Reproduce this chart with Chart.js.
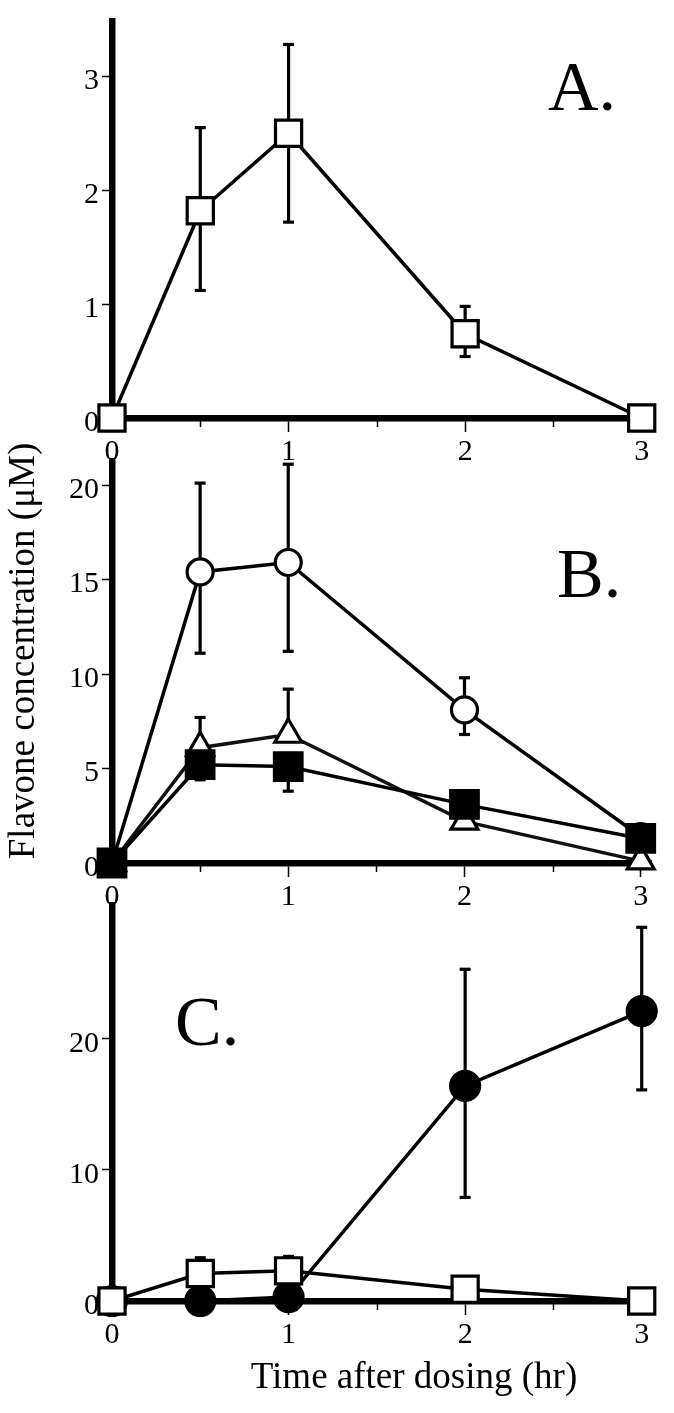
<!DOCTYPE html>
<html><head><meta charset="utf-8">
<script src="https://cdn.jsdelivr.net/npm/chart.js@4.4.1/dist/chart.umd.min.js"></script>
<style>
html,body{margin:0;padding:0;background:#fff;}
#wrap{position:relative;width:674px;height:1413px;overflow:hidden;background:#fff;}
canvas{position:absolute;left:0;}
</style></head><body>
<div id="wrap">
<canvas id="cA" width="674" height="470" style="top:0px"></canvas>
<canvas id="cB" width="674" height="520" style="top:400px"></canvas>
<canvas id="cC" width="674" height="533" style="top:880px"></canvas>
</div>
<script>
// ---------- data ----------
const timePoints = [0, 0.5, 1, 2, 3];
const xTickValues = [0, 1, 2, 3];
const xMinorTickValues = [0.5, 1.5, 2.5];

// Panel A
const aTicks = [0, 1, 2, 3];
const aSquareOpen   = [0, 1.82, 2.50, 0.74, 0];
const aSquareOpenHi = [null, 2.55, 3.28, 0.98, null];
const aSquareOpenLo = [null, 1.12, 1.72, 0.54, null];

// Panel B
const bTicks = [0, 5, 10, 15, 20];
const bCircleOpen     = [0, 15.4, 15.9, 8.1, 1.4];
const bCircleOpenHi   = [null, 20.1, 21.1, 9.8, null];
const bCircleOpenLo   = [null, 11.1, 11.2, 6.8, null];
const bTriangleOpen   = [0, 6.1, 6.8, 2.2, 0.1];
const bTriangleOpenHi = [null, 7.7, 9.2, null, null];
const bTriangleOpenLo = [null, null, null, null, null];
const bSquareFilled   = [0, 5.2, 5.1, 3.1, 1.3];
const bSquareFilledHi = [null, null, null, null, null];
const bSquareFilledLo = [null, 4.4, 3.8, null, null];

// Panel C
const cTicks = [0, 10, 20];
const cCircleFilled   = [0, 0, 0.3, 16.4, 22.1];
const cCircleFilledHi = [null, null, null, 25.3, 28.5];
const cCircleFilledLo = [null, null, null, 7.9, 16.1];
const cSquareOpen     = [0, 2.1, 2.3, 0.9, 0];
const cSquareOpenHi   = [null, 3.3, 3.4, null, null];
const cSquareOpenLo   = [null, null, null, null, null];

const yTitle = 'Flavone concentration (\u03BCM)';
const xTitle = 'Time after dosing (hr)';

// ---------- helpers ----------
const SERIF = "'Liberation Serif', 'Times New Roman', serif";
const pts = vals => timePoints.map((t, i) => ({x: t, y: vals[i]}));

const errorBarPlugin = {
  id: 'errorBars',
  beforeDatasetsDraw(chart) {
    const {ctx, scales: {x, y}} = chart;
    ctx.save();
    ctx.strokeStyle = '#000';
    ctx.lineWidth = 3.2;
    chart.data.datasets.forEach(ds => {
      if (!ds.errHi) return;
      ds.data.forEach((p, i) => {
        const px = x.getPixelForValue(p.x);
        const py = y.getPixelForValue(p.y);
        [ds.errHi[i], ds.errLo[i]].forEach(e => {
          if (e == null) return;
          const pe = y.getPixelForValue(e);
          ctx.beginPath(); ctx.moveTo(px, py); ctx.lineTo(px, pe); ctx.stroke();
          ctx.beginPath(); ctx.moveTo(px - 5.5, pe); ctx.lineTo(px + 5.5, pe); ctx.stroke();
        });
      });
    });
    ctx.restore();
  }
};

const extrasPlugin = {
  id: 'extras',
  beforeDatasetsDraw(chart) {
    const {ctx, scales: {x}, chartArea} = chart;
    ctx.save();
    ctx.strokeStyle = '#000';
    ctx.lineWidth = 1.5;
    xMinorTickValues.forEach(v => {
      const px = Math.round(x.getPixelForValue(v)) + 0.5;
      ctx.beginPath();
      ctx.moveTo(px, chartArea.bottom + 3);
      ctx.lineTo(px, chartArea.bottom + 9);
      ctx.stroke();
    });
    ctx.restore();
  },
  afterDraw(chart, args, opts) {
    const {ctx} = chart;
    ctx.save();
    ctx.fillStyle = '#000';
    if (opts.letter) {
      ctx.font = '70px ' + SERIF;
      ctx.textAlign = 'left';
      ctx.textBaseline = 'alphabetic';
      ctx.fillText(opts.letter.text, opts.letter.x, opts.letter.y);
    }
    (opts.titles || []).forEach(t => {
      ctx.save();
      ctx.font = '37px ' + SERIF;
      ctx.textAlign = 'center';
      ctx.textBaseline = 'alphabetic';
      ctx.translate(t.x, t.y);
      if (t.rotate) ctx.rotate(-Math.PI / 2);
      ctx.fillText(t.text, 0, 0);
      ctx.restore();
    });
    ctx.restore();
  }
};

function makeScales(yMax, yTickVals, xHeight) {
  const tickFont = {family: SERIF, size: 30};
  return {
    x: {
      type: 'linear', min: 0, max: 3.06,
      afterBuildTicks: s => { s.ticks = xTickValues.map(v => ({value: v})); },
      afterFit: s => { s.height = xHeight; },
      grid: {drawOnChartArea: false, drawTicks: true, tickLength: 14, tickWidth: 1.5, tickColor: '#000'},
      border: {display: true, width: 6.5, color: '#000'},
      ticks: {color: '#000', font: tickFont, padding: 2, maxRotation: 0, autoSkip: false,
               callback: v => String(v)}
    },
    y: {
      type: 'linear', min: 0, max: yMax,
      afterBuildTicks: s => { s.ticks = yTickVals.map(v => ({value: v})); },
      afterFit: s => { s.width = 112; },
      grid: {drawOnChartArea: false, drawTicks: true, tickLength: 10, tickWidth: 1.5, tickColor: '#000'},
      border: {display: true, width: 6.5, color: '#000'},
      ticks: {color: '#000', font: tickFont, padding: 3, labelOffset: 5, autoSkip: false,
              callback: v => String(v)}
    }
  };
}

function ds(vals, hi, lo, style, radius, fillCol, order, lineCol) {
  return {
    data: pts(vals), errHi: hi, errLo: lo,
    borderColor: lineCol || '#000', borderWidth: 3.5, tension: 0, fill: false,
    pointStyle: style, pointRadius: radius, pointHoverRadius: radius,
    pointBackgroundColor: fillCol, pointBorderColor: '#000', pointBorderWidth: 3.2,
    clip: false, order: order
  };
}

function baseOptions(yMax, yTickVals, xHeight, padTop, extras) {
  return {
    responsive: false, animation: false, events: [],
    layout: {padding: {top: padTop, right: 11, bottom: 0, left: 0}},
    plugins: {legend: {display: false}, tooltip: {enabled: false}, extras: extras},
    scales: makeScales(yMax, yTickVals, xHeight)
  };
}

// ---------- Panel A ----------
new Chart(document.getElementById('cA'), {
  type: 'line',
  data: {datasets: [ds(aSquareOpen, aSquareOpenHi, aSquareOpenLo, 'rect', 18.5, '#fff', 1)]},
  options: baseOptions(3.48, aTicks, 52, 8, {letter: {text: 'A.', x: 548, y: 110}}),
  plugins: [errorBarPlugin, extrasPlugin]
});

// ---------- Panel B ----------
new Chart(document.getElementById('cB'), {
  type: 'line',
  data: {datasets: [
    ds(bCircleOpen, bCircleOpenHi, bCircleOpenLo, 'circle', 13, '#fff', 3),
    ds(bTriangleOpen, bTriangleOpenHi, bTriangleOpenLo, 'triangle', 15.5, '#fff', 2, '#111'),
    ds(bSquareFilled, bSquareFilledHi, bSquareFilledLo, 'rect', 19.5, '#000', 1)
  ]},
  options: baseOptions(21.27, bTicks, 57, 61, {
    letter: {text: 'B.', x: 557, y: 197},
    titles: [{text: yTitle, x: 34, y: 251, rotate: true}]
  }),
  plugins: [errorBarPlugin, extrasPlugin]
});

// ---------- Panel C ----------
new Chart(document.getElementById('cC'), {
  type: 'line',
  data: {datasets: [
    ds(cCircleFilled, cCircleFilledHi, cCircleFilledLo, 'circle', 14.5, '#000', 2),
    ds(cSquareOpen, cSquareOpenHi, cSquareOpenLo, 'rect', 18.5, '#fff', 1)
  ]},
  options: baseOptions(30.2, cTicks, 112, 25, {
    letter: {text: 'C.', x: 175, y: 165},
    titles: [{text: xTitle, x: 414, y: 508, rotate: false}]
  }),
  plugins: [errorBarPlugin, extrasPlugin]
});
</script>
</body></html>
